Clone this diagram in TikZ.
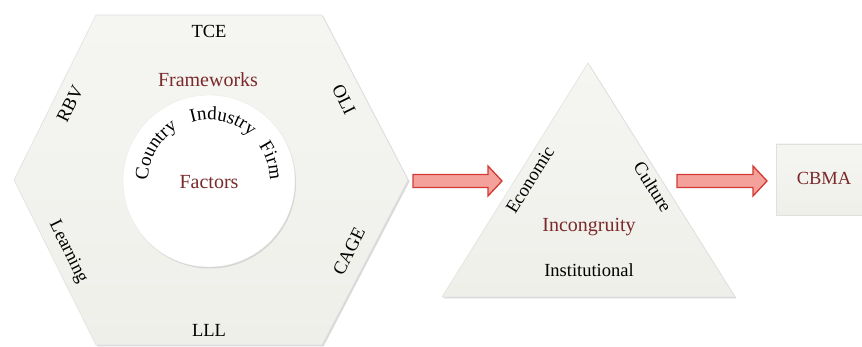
\documentclass[tikz,border=0pt]{standalone}
\usepackage{fontspec}
\setmainfont{Liberation Serif}
\usetikzlibrary{shadows,decorations.text,calc}
\definecolor{panel}{HTML}{EFEFEA}
\definecolor{panelhi}{HTML}{F5F5F2}
\definecolor{darkred}{HTML}{7A2A2A}
\definecolor{arrowfill}{HTML}{F4A19C}
\definecolor{arrowline}{HTML}{D23A33}
\newcommand\bigfont{\fontsize{20}{24}\selectfont}
\newcommand\labfont{\fontsize{18.5}{22}\selectfont}
\newcommand\arcfont{\fontsize{19}{22}\selectfont}
\tikzset{
  panelshape/.style={top color=panelhi, bottom color=panel, draw=black!12, line width=0.6pt,
    drop shadow={shadow xshift=1.5pt, shadow yshift=-1.5pt, opacity=0.25, fill=black!60}},
  title/.style={font=\bigfont, text=darkred, inner sep=0pt, anchor=base},
  lab/.style={font=\labfont, text=black, inner sep=0pt},
  blockarrow/.style={fill=arrowfill, draw=arrowline, line width=1.3pt, line join=miter},
}
\begin{document}
\begin{tikzpicture}[x=1pt,y=1pt]
\useasboundingbox (0,0) rectangle (862,347);

% frameworks hexagon
\coordinate (h1) at (96,332);
\coordinate (h2) at (322,332);
\coordinate (h3) at (408,167);
\coordinate (h4) at (322,2);
\coordinate (h5) at (96,2);
\coordinate (h6) at (14,167);
\path[panelshape] (h1) -- (h2) -- (h3) -- (h4) -- (h5) -- (h6) -- cycle;

% factors circle
\node[circle, minimum size=172pt, fill=white, draw=black!8,
  drop shadow={shadow xshift=1pt, shadow yshift=-1.5pt, opacity=0.2, fill=black!60}]
  (circ) at (209,166) {};

\node[lab, anchor=base] (tce) at (209,309) {TCE};
\node[lab, anchor=base] (lll) at (209,10) {LLL};
\node[lab, rotate=63.6] (rbv) at (70,243) {RBV};
\node[lab, rotate=-63.6] (oli) at (344,247) {OLI};
\node[lab, rotate=-63.6] (learn) at (68,95) {Learning};
\node[lab, rotate=63.6] (cage) at (349,96) {CAGE};
\node[title] (frame) at (208,260) {Frameworks};
\node[title] (fact) at (209,158) {Factors};

% words set along the circle
\path[shift={(circ.center)}, decorate, decoration={text along path, text align=center,
  text={|\arcfont|Country}}] (200:61) arc[start angle=200, end angle=100, radius=61];
\path[shift={(circ.center)}, decorate, decoration={text along path, text align=center,
  text={|\arcfont|Industry}}] (127:61) arc[start angle=127, end angle=27, radius=61];
\path[shift={(circ.center)}, decorate, decoration={text along path, text align=center,
  text={|\arcfont|Firm}}] (68:61) arc[start angle=68, end angle=-32, radius=61];

% incongruity triangle
\coordinate (t1) at (588,284);
\coordinate (t2) at (735,50);
\coordinate (t3) at (442,50);
\path[panelshape] (t1) -- (t2) -- (t3) -- cycle;
\node[lab, rotate=58] (econ) at (530,167) {Economic};
\node[lab, rotate=-58] (cult) at (653,160) {Culture};
\node[title] (incong) at (589,115) {Incongruity};
\node[lab, anchor=base] (inst) at (589,70) {Institutional};

% outcome box
\path[panelshape] (776,132) rectangle (900,203);
\node[title, font=\labfont] (cbma) at (824,162) {CBMA};

% block arrows between the stages
\coordinate (a1) at (413,166);
\path[blockarrow] ($(a1)+(0,6.5)$) -- ++(75,0) -- ++(0,8.5) -- ($(a1)+(89,0)$)
  -- ($(a1)+(75,-15)$) -- ++(0,8.5) -- ($(a1)+(0,-6.5)$) -- cycle;
\coordinate (a2) at (677,166);
\path[blockarrow] ($(a2)+(0,6.5)$) -- ++(76,0) -- ++(0,8.5) -- ($(a2)+(90,0)$)
  -- ($(a2)+(76,-15)$) -- ++(0,8.5) -- ($(a2)+(0,-6.5)$) -- cycle;
\end{tikzpicture}
\end{document}
